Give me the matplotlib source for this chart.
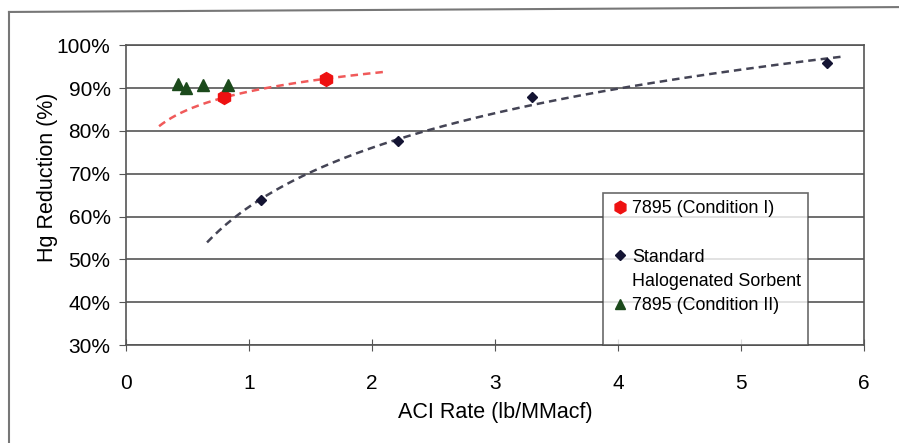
import matplotlib.pyplot as plt
import numpy as np
from matplotlib.lines import Line2D

# data
cond1_x = [0.80, 1.63]
cond1_y = [87.8, 92.2]

std_x = [1.10, 2.21, 3.30, 5.70]
std_y = [63.8, 77.6, 87.8, 95.9]

cond2_x = [0.42, 0.49, 0.63, 0.83]
cond2_y = [91.0, 90.0, 90.8, 90.6]

# trendline ranges (as drawn in the original)
cond1_trend_range = [0.27, 2.09]
std_trend_range = [0.66, 5.83]

red = '#ee1111'
navy = '#141433'
green = '#1c4a1c'

plt.rcParams['font.family'] = ['Liberation Sans', 'DejaVu Sans']

fig = plt.figure(figsize=(8.99, 4.43), dpi=100)
ax = fig.add_axes([0.140, 0.221, 0.821, 0.677])

# logarithmic trendlines fitted to the points
b, a = np.polyfit(np.log(cond1_x), cond1_y, 1)
tx = np.linspace(cond1_trend_range[0], cond1_trend_range[1], 200)
ax.plot(tx, a + b * np.log(tx), color='#f05a5a', ls=(0, (3, 2)), lw=1.8, zorder=3)

b, a = np.polyfit(np.log(std_x), std_y, 1)
tx = np.linspace(std_trend_range[0], std_trend_range[1], 200)
ax.plot(tx, a + b * np.log(tx), color='#444455', ls=(0, (3, 2)), lw=1.8, zorder=3)

ax.plot(cond1_x, cond1_y, 'h', color=red, ms=10, ls='none', zorder=4)
ax.plot(std_x, std_y, 'D', color=navy, ms=5, ls='none', zorder=4)
ax.plot(cond2_x, cond2_y, '^', color=green, ms=8, ls='none', zorder=4)

ax.set_xlim(0, 6)
ax.set_ylim(30, 100)
ax.set_xticks(range(0, 7))
ax.set_yticks(range(30, 101, 10))
ax.set_yticklabels(['%d%%' % v for v in range(30, 101, 10)])
ax.yaxis.grid(True, color='#555555', lw=1.2)
ax.set_axisbelow(True)
for s in ax.spines.values():
    s.set_color('#555555')
    s.set_linewidth(1.2)
ax.tick_params(axis='x', direction='inout', length=8, color='#555555',
               labelsize=15, pad=17)
ax.tick_params(axis='y', direction='out', length=5, color='#555555',
               labelsize=15, pad=6)
ax.set_xlabel('ACI Rate (lb/MMacf)', fontsize=15.5, labelpad=6)
ax.set_ylabel('Hg Reduction (%)', fontsize=15.5)
ax.yaxis.set_label_coords(-0.092, 0.56)

blank = Line2D([], [], ls='none')
handles = [
    Line2D([], [], marker='h', color=red, ls='none', ms=9),
    blank,
    Line2D([], [], marker='D', color=navy, ls='none', ms=5),
    blank,
    Line2D([], [], marker='^', color=green, ls='none', ms=7),
    blank,
]
labels = ['7895 (Condition I)', ' ', 'Standard', 'Halogenated Sorbent',
          '7895 (Condition II)', ' ']
leg = ax.legend(handles, labels, loc='upper left',
                bbox_to_anchor=(0.646, 0.507), fontsize=12.9, frameon=True,
                fancybox=False, handletextpad=0.15, handlelength=1.1,
                borderpad=0.4, labelspacing=0.4, borderaxespad=0)
leg.get_frame().set_edgecolor('#444444')
leg.get_frame().set_linewidth(1.2)
leg.set_zorder(5)

# outer chart frame (only top and left visible in the original)
fig.add_artist(Line2D([0.010, 0.010], [0.0, 0.973], color='#777777', lw=1.5))
fig.add_artist(Line2D([0.010, 1.0], [0.973, 0.984], color='#777777', lw=1.5))

fig.savefig('out.png', dpi=100)
